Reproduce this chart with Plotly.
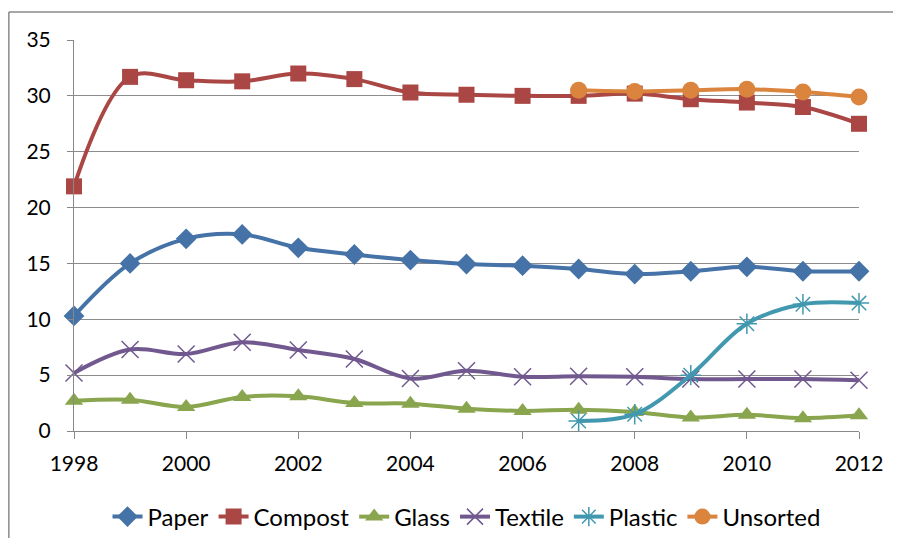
import plotly.graph_objects as go

years = list(range(1998, 2013))
paper = [10.3, 15.0, 17.2, 17.6, 16.4, 15.8, 15.3, 14.95, 14.8, 14.5, 14.05, 14.3, 14.7, 14.3, 14.3]
compost = [21.9, 31.7, 31.4, 31.3, 32.0, 31.5, 30.3, 30.1, 30.0, 30.0, 30.2, 29.7, 29.4, 29.0, 27.5]
glass = [2.7, 2.8, 2.15, 3.05, 3.1, 2.5, 2.45, 2.0, 1.8, 1.9, 1.7, 1.2, 1.45, 1.15, 1.4]
textile = [5.2, 7.3, 6.9, 7.95, 7.25, 6.45, 4.7, 5.4, 4.85, 4.9, 4.85, 4.65, 4.65, 4.65, 4.55]
plastic = [None] * 9 + [0.9, 1.5, 5.0, 9.6, 11.35, 11.45]
unsorted = [None] * 9 + [30.5, 30.4, 30.5, 30.6, 30.35, 29.9]

series = [
    ("Paper", paper, "#4572A7", dict(symbol="diamond", size=16)),
    ("Compost", compost, "#AA4643", dict(symbol="square", size=16)),
    ("Glass", glass, "#89A54E", dict(symbol="triangle-up", size=16)),
    ("Textile", textile, "#71588F", dict(symbol="x-thin-open", size=17, line=dict(width=1.5, color="#71588F"))),
    ("Plastic", plastic, "#4198AF", dict(symbol="asterisk-open", size=17, line=dict(width=1.5, color="#4198AF"))),
    ("Unsorted", unsorted, "#DB843D", dict(symbol="circle", size=17)),
]

fig = go.Figure()
for name, vals, color, mk in series:
    mk = dict(mk)
    mk["color"] = color
    fig.add_trace(go.Scatter(
        x=years, y=vals, name=name, mode="lines+markers",
        line=dict(color=color, width=4, shape="spline", smoothing=1.0),
        marker=mk, cliponaxis=False, connectgaps=False,
    ))

frame = dict(color="#8a8a8a", width=1.5)
fig.update_layout(
    width=893, height=530,
    margin=dict(l=66, r=42, t=32, b=107, autoexpand=False),
    paper_bgcolor="white", plot_bgcolor="white",
    font=dict(family="Lato, 'Open Sans', sans-serif", size=21, color="black"),
    showlegend=True,
    legend=dict(orientation="h", x=0.5, xanchor="center", y=-0.22, yanchor="middle",
                font=dict(size=24), itemwidth=30, tracegroupgap=0),
    xaxis=dict(range=[1998, 2012], dtick=2, tick0=1998, showgrid=False,
               showline=True, linecolor="#888888", linewidth=1, automargin=False,
               ticks="outside", ticklen=7, tickcolor="#888888", zeroline=False,
               ticklabelstandoff=7),
    yaxis=dict(range=[0, 35], dtick=5, showgrid=True, gridcolor="#8c8c8c", gridwidth=1,
               showline=True, linecolor="#888888", linewidth=1, automargin=False,
               ticks="outside", ticklen=6, tickcolor="#888888", zeroline=False,
               ticklabelstandoff=12),
    shapes=[
        dict(type="line", xref="paper", yref="paper", x0=-0.083, x1=1.06, y0=1.0716, y1=1.0716, line=frame),
        dict(type="line", xref="paper", yref="paper", x0=-0.083, x1=-0.083, y0=-0.3, y1=1.0716, line=frame),
    ],
)

fig.write_html("out.html")
